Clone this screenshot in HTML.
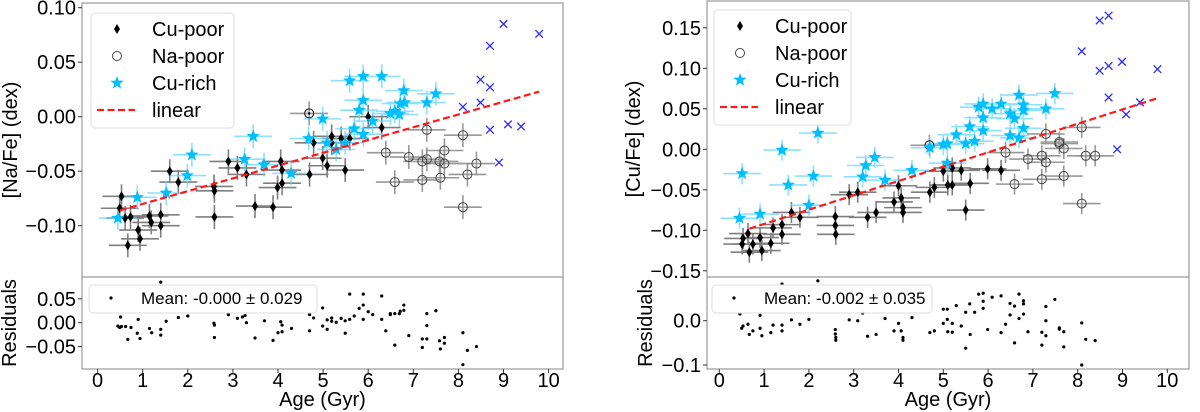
<!DOCTYPE html>
<html><head><meta charset="utf-8"><style>
html,body{margin:0;padding:0;background:#fff;}
svg{display:block;font-family:"Liberation Sans","DejaVu Sans",sans-serif;}
</style></head><body>
<svg id="chart" width="1200" height="412" viewBox="0 0 1200 412" xmlns="http://www.w3.org/2000/svg"></svg>
<script>
// ===== Left panel data: [Na/Fe] vs Age =====
const naPoorCuAge=[0.53,0.49,0.61,0.73,0.67,0.90,0.94,1.15,1.19,1.40,1.40,1.60,1.79,2.58,2.59,2.59,2.90,3.10,3.30,3.49,3.89,3.99,4.06,4.09,4.09,4.70,4.79,4.99,5.09,5.19,5.19,5.40,5.49,5.59,6.00,6.30];
const naPoorCuVal=[-0.073,-0.084,-0.093,-0.092,-0.118,-0.104,-0.112,-0.091,-0.097,-0.090,-0.100,-0.050,-0.060,-0.064,-0.068,-0.092,-0.041,-0.047,-0.053,-0.082,-0.083,-0.065,-0.041,-0.049,-0.061,-0.053,-0.024,-0.038,-0.045,-0.018,-0.024,-0.020,-0.049,-0.020,0.000,-0.010];
const naNaPoorAge=[4.69,6.39,6.59,6.90,7.20,7.20,7.30,7.30,7.58,7.60,7.69,7.69,8.10,8.10,8.20,8.40];
const naNaPoorVal=[0.003,-0.033,-0.060,-0.037,-0.041,-0.058,-0.012,-0.039,-0.041,-0.056,-0.031,-0.043,-0.017,-0.083,-0.053,-0.043];
const naCuRichAge=[0.45,0.88,1.52,1.99,2.09,3.26,3.45,3.69,4.29,4.68,4.99,5.09,5.29,5.49,5.59,5.69,5.80,5.89,5.89,5.89,6.10,6.30,6.49,6.59,6.69,6.71,6.79,6.81,7.30,7.50];
const naCuRichVal=[-0.093,-0.074,-0.070,-0.054,-0.035,-0.039,-0.018,-0.044,-0.052,-0.020,-0.002,-0.024,-0.030,-0.024,0.033,-0.011,0.006,0.037,0.015,-0.016,-0.004,0.037,0.003,0.005,0.002,0.012,0.024,0.013,0.013,0.021];
const naOldAge=[8.10,8.49,8.49,8.70,8.70,8.70,8.90,9.00,9.10,9.39,9.79];
const naOldVal=[0.009,0.034,0.013,0.065,0.027,-0.012,-0.042,0.085,-0.007,-0.009,0.076];
const naFitAge=[0.49,9.79];
const naFitVal=[-0.086,0.023];
const naResAge=[0.45,0.49,0.51,0.53,0.62,0.67,0.74,0.90,0.88,0.94,1.15,1.20,1.40,1.40,1.52,1.79,2.00,2.58,2.59,2.59,2.90,3.10,3.21,3.27,3.30,3.49,3.70,3.89,4.00,4.06,4.09,4.09,4.30,4.70,4.70,4.79,4.99,4.99,5.09,5.09,5.19,5.19,5.29,5.40,5.49,5.49,5.59,5.59,5.69,5.80,5.89,5.89,5.89,6.00,6.10,6.30,6.30,6.39,6.49,6.49,6.59,6.59,6.69,6.71,6.79,6.79,6.90,7.20,7.20,7.30,7.30,7.30,7.50,7.58,7.60,7.69,7.69,8.10,8.10,8.20,8.40,1.40];
const naResVal=[-0.007,-0.010,0.012,-0.008,-0.008,-0.035,-0.010,0.007,-0.022,-0.033,-0.012,-0.021,-0.014,-0.026,0.003,0.011,0.014,-0.001,-0.005,-0.031,0.017,0.009,0.012,0.015,0.000,-0.032,0.004,-0.037,-0.021,0.002,-0.005,-0.019,-0.012,0.017,-0.017,0.010,0.031,-0.007,-0.014,0.006,0.010,0.003,0.001,0.009,-0.022,0.004,0.060,0.007,0.014,0.030,0.060,0.037,0.007,0.023,0.017,0.056,0.007,-0.017,0.019,0.017,-0.047,0.019,0.019,0.024,0.037,0.026,-0.027,-0.034,-0.052,0.019,-0.006,-0.034,0.025,-0.038,-0.055,-0.031,-0.043,-0.021,-0.088,-0.058,-0.050,0.085];
const naYTicks=[0.10,0.05,0.00,-0.05,-0.10];
const naYTickLabels=["0.10","0.05","0.00","\u22120.05","\u22120.10"];
const naResTicks=[0.05,0.00,-0.05];
const naResTickLabels=["0.05","0.00","\u22120.05"];

// ===== Right panel data: [Cu/Fe] vs Age =====
const cuPoorCuAge=[0.51,0.53,0.64,0.67,0.75,0.91,0.95,1.15,1.20,1.40,1.40,1.61,1.80,2.59,2.59,2.60,2.90,3.09,3.31,3.50,3.90,4.00,4.06,4.10,4.10,4.70,4.80,5.00,5.10,5.20,5.20,5.40,5.50,5.60,5.99,6.29];
const cuPoorCuVal=[-0.117,-0.110,-0.104,-0.127,-0.117,-0.109,-0.125,-0.116,-0.097,-0.093,-0.105,-0.078,-0.084,-0.083,-0.094,-0.105,-0.056,-0.053,-0.084,-0.078,-0.065,-0.045,-0.060,-0.072,-0.078,-0.053,-0.047,-0.027,-0.044,-0.023,-0.044,-0.026,-0.075,-0.042,-0.024,-0.026];
const cuNaPoorAge=[4.69,6.39,6.59,6.89,7.20,7.20,7.29,7.29,7.59,7.59,7.69,7.69,8.09,8.09,8.18,8.39];
const cuNaPoorVal=[0.005,-0.004,-0.043,-0.012,-0.008,-0.037,0.019,-0.016,0.009,0.007,0.001,-0.033,0.027,-0.067,-0.008,-0.008];
const cuCuRichAge=[0.45,0.51,0.91,1.40,1.54,2.00,2.10,2.20,3.20,3.27,3.47,3.70,4.30,4.70,5.00,5.09,5.09,5.29,5.50,5.59,5.70,5.79,5.89,5.89,5.89,6.09,6.29,6.49,6.49,6.59,6.69,6.69,6.79,6.79,6.79,7.29,7.49];
const cuCuRichVal=[-0.085,-0.030,-0.080,-0.001,-0.044,-0.069,-0.033,0.020,-0.034,-0.020,-0.010,-0.038,-0.026,0.002,0.006,0.007,-0.017,0.018,0.007,0.028,0.010,0.052,0.056,0.039,0.023,0.050,0.056,0.044,0.017,0.038,0.067,0.014,0.055,0.048,0.026,0.050,0.069];
const cuOldAge=[8.09,8.49,8.49,8.69,8.69,8.69,8.88,8.99,9.08,9.39,9.78];
const cuOldVal=[0.121,0.159,0.097,0.165,0.103,0.064,0.000,0.108,0.043,0.058,0.099];
const cuFitAge=[0.67,9.78];
const cuFitVal=[-0.098,0.063];
const cuResAge=[0.46,0.50,0.53,0.64,0.67,0.75,0.91,0.91,0.95,1.15,1.20,1.40,1.40,1.40,1.61,1.80,2.00,2.20,2.59,2.59,2.60,2.60,2.90,3.09,3.20,3.31,3.50,3.70,3.90,4.00,4.06,4.10,4.10,4.30,4.70,4.80,5.00,5.00,5.09,5.09,5.10,5.20,5.20,5.29,5.40,5.50,5.50,5.60,5.59,5.70,5.79,5.89,5.89,5.89,5.99,6.09,6.29,6.29,6.39,6.49,6.49,6.59,6.59,6.69,6.69,6.79,6.79,6.79,6.89,7.20,7.20,7.29,7.29,7.29,7.49,7.59,7.59,7.69,7.69,8.09,8.09,8.18,8.39];
const cuResVal=[0.015,-0.017,-0.012,-0.008,-0.031,-0.023,0.012,-0.017,-0.034,-0.027,-0.010,-0.010,-0.023,0.083,0.002,-0.008,0.003,0.090,-0.020,-0.030,-0.038,-0.044,0.002,0.000,0.017,-0.035,-0.031,0.005,-0.023,-0.006,-0.023,-0.038,-0.044,0.007,-0.027,-0.023,0.026,-0.006,0.026,0.003,-0.025,-0.006,-0.026,0.034,-0.012,0.019,-0.062,-0.031,0.038,0.019,0.060,0.062,0.044,0.028,-0.020,0.053,0.056,-0.027,-0.008,0.039,0.013,-0.050,0.033,0.060,0.005,0.045,0.038,0.015,-0.025,-0.026,-0.055,0.032,0.000,-0.034,0.048,-0.016,-0.019,-0.025,-0.059,-0.005,-0.100,-0.042,-0.045];
const cuYTicks=[0.15,0.10,0.05,0.00,-0.05,-0.10,-0.15];
const cuYTickLabels=["0.15","0.10","0.05","0.00","\u22120.05","\u22120.10","\u22120.15"];
const cuResTicks=[0.0,-0.1];
const cuResTickLabels=["0.0","\u22120.1"];

const xTicks=[0,1,2,3,4,5,6,7,8,9,10];
const xTickLabels=["0","1","2","3","4","5","6","7","8","9","10"];
const legendLabels=["Cu-poor","Na-poor","Cu-rich","linear"];

const NS="http://www.w3.org/2000/svg";
const svg=document.getElementById('chart');
function mk(tag,attrs,parent){const e=document.createElementNS(NS,tag);for(const k in attrs)e.setAttribute(k,attrs[k]);(parent||svg).appendChild(e);return e;}
function txt(s,attrs,parent){const e=mk('text',attrs,parent);e.textContent=s;return e;}

function starPts(cx,cy,R){const r=R*0.42;let p=[];for(let i=0;i<10;i++){const a=-Math.PI/2+i*Math.PI/5;const rr=i%2?r:R;p.push((cx+rr*Math.cos(a)).toFixed(1)+','+(cy+rr*Math.sin(a)).toFixed(1));}return p.join(' ');}
function drawStar(g,cx,cy){const e=mk('polygon',{points:starPts(cx,cy,7),fill:'#00bfff'},g);return e;}
function drawDiamond(g,cx,cy){return mk('polygon',{points:`${cx},${cy-5} ${cx+3},${cy} ${cx},${cy+5} ${cx-3},${cy}`,fill:'#000'},g);}
function drawCircle(g,cx,cy,col){return mk('circle',{cx:cx,cy:cy,r:4.5,fill:'none',stroke:col||'#444','stroke-width':1},g);}
function drawX(g,cx,cy){const s=3.8;const gg=mk('g',{stroke:'#2a2aff','stroke-width':1.3},g);mk('line',{x1:cx-s,y1:cy-s,x2:cx+s,y2:cy+s},gg);mk('line',{x1:cx-s,y1:cy+s,x2:cx+s,y2:cy-s},gg);return gg;}

function panel(P){
  const X=a=>P.x0+a*P.xs;
  const Y=v=>P.y0-v*P.ys;
  const R=v=>P.r0-v*P.rs;
  const root=mk('g',{});
  
  
  const frame=mk('g',{fill:'none',stroke:'#999','stroke-width':1.2},root);
  
  
  mk('rect',{x:P.L,y:P.T,width:P.Rr-P.L,height:P.B-P.T},frame);
  mk('line',{x1:P.L,y1:P.M,x2:P.Rr,y2:P.M},frame);
  const xt=mk('g',{},root);
  
  
  xTicks.forEach((t,i)=>{const x=X(t);mk('line',{x1:x,y1:P.B,x2:x,y2:P.B+4,stroke:'#333','stroke-width':1},xt);
    const l=txt(xTickLabels[i],{x:x,y:P.B+18,'font-size':20,'text-anchor':'middle',fill:'#000'},xt);
    
    });
  const xl=txt('Age (Gyr)',{x:(P.L+P.Rr)/2,y:406,'font-size':20,'text-anchor':'middle'},root);
  
  
  const yt=mk('g',{},root);
  
  
  P.yTicks.forEach((t,i)=>{const y=Y(t);mk('line',{x1:P.L-4,y1:y,x2:P.L,y2:y,stroke:'#333'},yt);
    const l=txt(P.yLabels[i],{x:P.L-6,y:y+7,'font-size':20,'text-anchor':'end'},yt);
    
    });
  P.rTicks.forEach((t,i)=>{const y=R(t);mk('line',{x1:P.L-4,y1:y,x2:P.L,y2:y,stroke:'#333'},yt);
    const l=txt(P.rLabels[i],{x:P.L-6,y:y+7,'font-size':20,'text-anchor':'end'},yt);
    
    });
  const yl=txt(P.yTitle,{x:0,y:0,'font-size':20,'text-anchor':'middle',transform:`translate(${P.ytx},${(P.T+P.M)/2}) rotate(-90)`},root);
  
  
  const rl=txt('Residuals',{x:0,y:0,'font-size':20,'text-anchor':'middle',transform:`translate(${P.rtx},${(P.M+P.B)/2}) rotate(-90)`},root);
  
  

  const cid='clip'+P.name;
  const cp=mk('clipPath',{id:cid},root);mk('rect',{x:P.L,y:P.T,width:P.Rr-P.L,height:P.M-P.T},cp);
  const main=mk('g',{'clip-path':`url(#${cid})`},root);
  
  
  function errbars(ages,vals,col,op){const g=mk('g',{stroke:col,'stroke-width':1.6,opacity:op},main);
    ages.forEach((a,i)=>{const x=X(a),y=Y(vals[i]);
      mk('line',{x1:X(a-P.xe),y1:y,x2:X(a+P.xe),y2:y},g);
      mk('line',{x1:x,y1:Y(vals[i]+P.ye),x2:x,y2:Y(vals[i]-P.ye)},g);});}
  errbars(P.cpA,P.cpV,'#555',0.75);
  errbars(P.npA,P.npV,'#555',0.6);
  errbars(P.crA,P.crV,'#5fd4ff',0.7);
  const sNp=mk('g',{},main);
  
  
  P.npA.forEach((a,i)=>{const c=drawCircle(sNp,X(a),Y(P.npV[i]),i===0?'#111':'#444');
    
    
    if(i===0){mk('circle',{cx:X(a),cy:Y(P.npV[i]),r:1.3,fill:'#111'},sNp);}});
  const sCp=mk('g',{},main);
  
  
  P.cpA.forEach((a,i)=>{const d=drawDiamond(sCp,X(a),Y(P.cpV[i]));
    
    });
  const sCr=mk('g',{},main);
  
  
  P.crA.forEach((a,i)=>{const s=drawStar(sCr,X(a),Y(P.crV[i]));
    
    });
  const sOld=mk('g',{},main);
  
  
  P.oA.forEach((a,i)=>{const s=drawX(sOld,X(a),Y(P.oV[i]));
    
    });
  const fit=mk('line',{x1:X(P.fA[0]),y1:Y(P.fV[0]),x2:X(P.fA[1]),y2:Y(P.fV[1]),stroke:'#ff1a1a','stroke-width':2.2,'stroke-dasharray':'7,3.5'},main);
  
  

  const lg=mk('g',{},root);
  
  
  mk('rect',{x:P.lgx,y:P.lgy,width:P.lgw,height:115,rx:4,fill:'#fff','fill-opacity':0.8,stroke:'#ddd'},lg);
  const mx=P.lgx+26, tx=P.lgx+61;
  const rows=[P.lgy+16,P.lgy+43,P.lgy+70,P.lgy+97];
  drawDiamond(lg,mx,rows[0]);
  drawCircle(lg,mx,rows[1],'#444');
  drawStar(lg,mx,rows[2]);
  mk('line',{x1:mx-20,y1:rows[3],x2:mx+18,y2:rows[3],stroke:'#ff1a1a','stroke-width':2.2,'stroke-dasharray':'7,3.5'},lg);
  legendLabels.forEach((s,i)=>{const t=txt(s,{x:tx,y:rows[i]+7,'font-size':20},lg);
    
    });

  const cid2='clipr'+P.name;
  const cp2=mk('clipPath',{id:cid2},root);mk('rect',{x:P.L,y:P.M,width:P.Rr-P.L,height:P.B-P.M},cp2);
  const res=mk('g',{'clip-path':`url(#${cid2})`},root);
  
  
  P.resA.forEach((a,i)=>{const c=mk('circle',{cx:X(a),cy:R(P.resV[i]),r:1.6,fill:'#000'},res);
    
    });
  const rlg=mk('g',{},root);
  
  
  mk('rect',{x:P.rlx,y:285,width:P.rlw,height:28,rx:4,fill:'#fff','fill-opacity':0.8,stroke:'#ddd'},rlg);
  mk('circle',{cx:P.rlx+22,cy:298,r:1.6,fill:'#000'},rlg);
  txt(P.mean,{x:P.rlx+52,y:304,'font-size':17},rlg);
}

panel({name:'na-fe-panel',L:82,Rr:563,T:3,M:277,B:369,x0:97.6,xs:45.1,y0:116.7,ys:1090,r0:322.7,rs:477,
  xe:0.42,ye:0.011,yTicks:naYTicks,yLabels:naYTickLabels,rTicks:naResTicks,rLabels:naResTickLabels,
  yTitle:'[Na/Fe] (dex)',ytx:17,rtx:16,cpA:naPoorCuAge,cpV:naPoorCuVal,npA:naNaPoorAge,npV:naNaPoorVal,
  crA:naCuRichAge,crV:naCuRichVal,oA:naOldAge,oV:naOldVal,fA:naFitAge,fV:naFitVal,resA:naResAge,resV:naResVal,
  lgx:91,lgy:13,lgw:143,rlx:89,rlw:228,mean:'Mean: -0.000 \u00b1 0.029'});
panel({name:'cu-fe-panel',L:707,Rr:1189,T:1,M:277,B:369,x0:719.3,xs:44.8,y0:149.3,ys:810,r0:320.7,rs:443,
  xe:0.42,ye:0.013,yTicks:cuYTicks,yLabels:cuYTickLabels,rTicks:cuResTicks,rLabels:cuResTickLabels,
  yTitle:'[Cu/Fe] (dex)',ytx:640,rtx:652,cpA:cuPoorCuAge,cpV:cuPoorCuVal,npA:cuNaPoorAge,npV:cuNaPoorVal,
  crA:cuCuRichAge,crV:cuCuRichVal,oA:cuOldAge,oV:cuOldVal,fA:cuFitAge,fV:cuFitVal,resA:cuResAge,resV:cuResVal,
  lgx:714,lgy:10,lgw:137,rlx:712,rlw:220,mean:'Mean: -0.002 \u00b1 0.035'});
</script>
</body></html>
